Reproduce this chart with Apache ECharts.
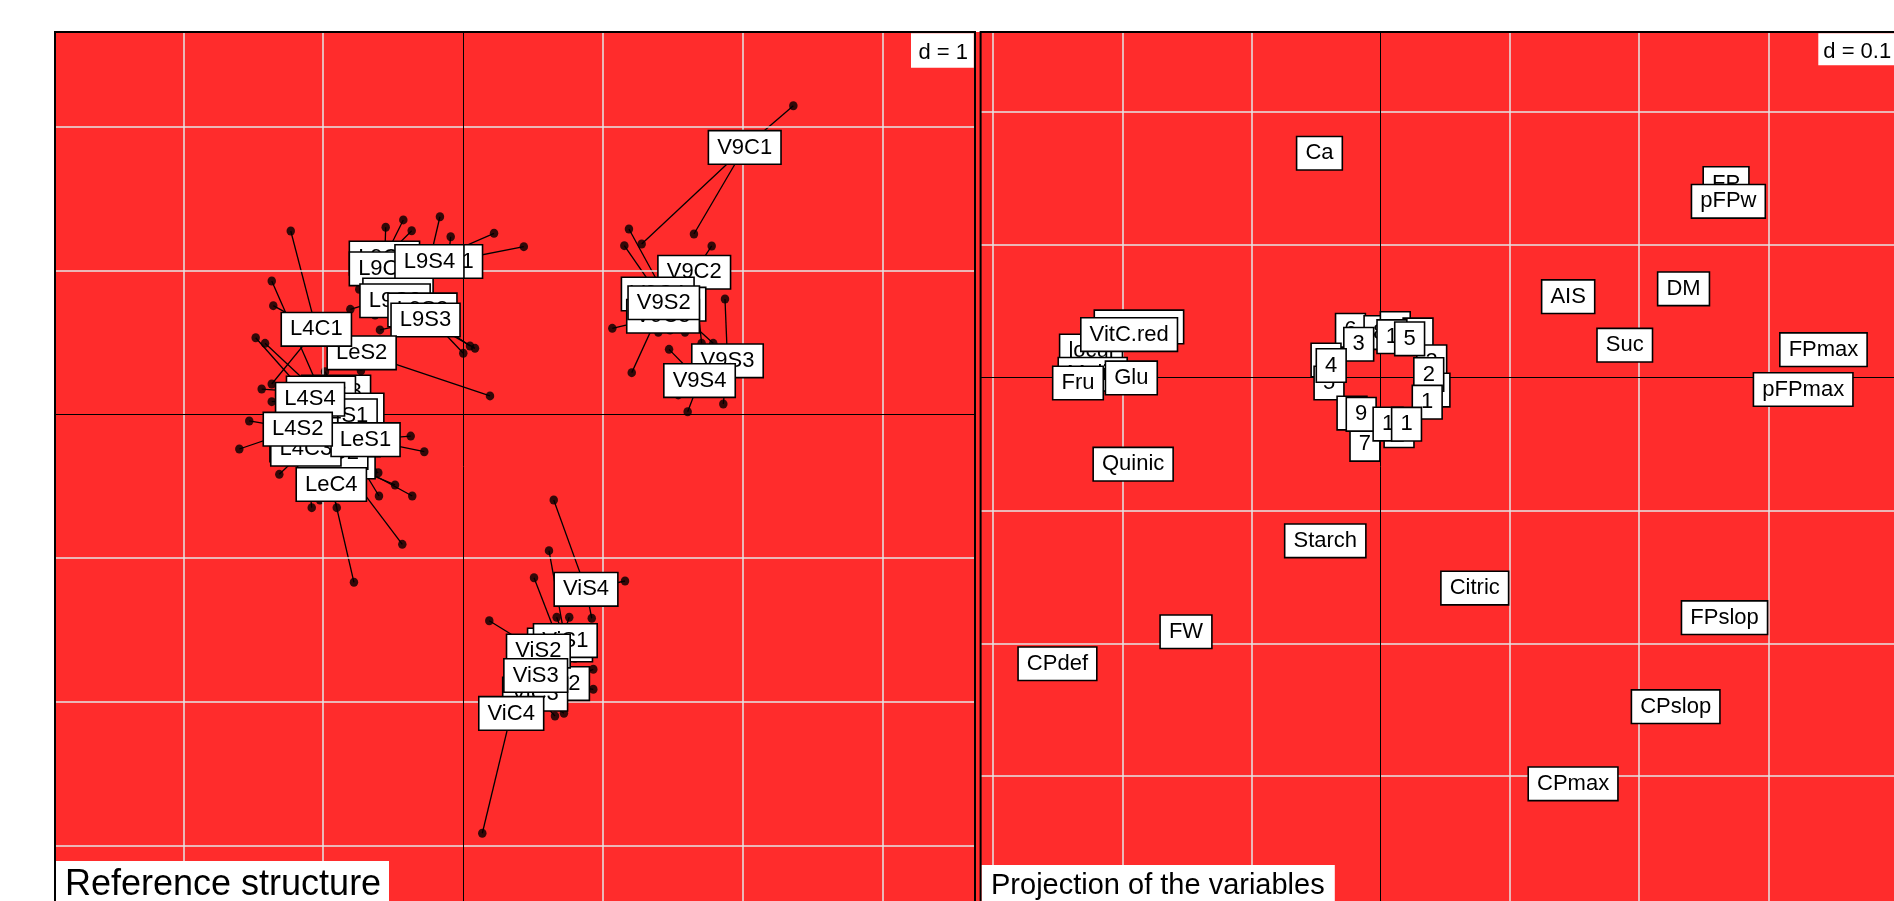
<!DOCTYPE html>
<html><head><meta charset="utf-8">
<script src="https://cdn.jsdelivr.net/npm/echarts@6/dist/echarts.min.js"></script>
<style>html,body{margin:0;padding:0;background:#fff}#c{width:1894px;height:901px}</style>
</head><body><div id="c"></div>
<script>
// ---- Reference structure (rows), in drawing order ----
const rowNames = [
  'L9C2','L9C1','L9C4','L9C3','L9S1','L9S4','L9S2','L9S3',
  'V9C1','V9C2','V9C4','V9S1','V9C3','V9S2','V9S3','V9S4',
  'ViS4','ViC1','ViS1','ViC2','ViS2','ViC3','ViS3','ViC4',
  'LeC3','LeC1','L4C4','L4C2','LeC2','L4C3','LeS3','L4S3',
  'LeS4','L4S1','L4S4','LeS1','L4S2','LeC4','LeS2','L4C1'
];
const rowCoords = [
  [-0.562,1.086],[-0.562,1.011],[-0.465,0.829],[-0.486,0.789],[-0.107,1.062],[-0.240,1.062],[-0.290,0.725],[-0.268,0.655],
  [2.015,1.855],[1.654,0.987],[1.393,0.836],[1.481,0.765],[1.431,0.681],[1.436,0.775],[1.892,0.371],[1.692,0.234],
  [0.880,-1.218],[0.694,-1.605],[0.732,-1.574],[0.672,-1.873],[0.539,-1.647],[0.516,-1.947],[0.520,-1.817],[0.345,-2.081],
  [-0.880,-0.332],[-0.844,-0.179],[-1.130,-0.214],[-1.023,-0.179],[-0.932,-0.266],[-1.124,-0.243],[-0.908,0.154],[-1.016,0.147],
  [-0.813,0.029],[-0.861,-0.011],[-1.094,0.104],[-0.697,-0.177],[-1.182,-0.104],[-0.942,-0.489],[-0.725,0.427],[-1.049,0.590]
];
const rowPartials = [
  [[-0.427,1.351],[-0.367,1.276],[-0.665,1.142]],
  [[-0.553,1.300],[-0.486,0.934],[-0.651,0.968]],
  [[-0.806,0.729],[0.050,0.474],[-0.379,0.864]],
  [[-0.742,0.869],[-0.415,0.725],[-0.629,0.690]],
  [[0.435,1.165],[-0.088,1.234],[-0.021,1.003]],
  [[-0.165,1.373],[0.222,1.258],[-0.236,1.003]],
  [[0.002,0.424],[-0.308,0.655],[-0.451,0.725]],
  [[-0.594,0.586],[0.086,0.458],[-0.165,0.620]],
  [[2.363,2.145],[1.652,1.253],[1.278,1.184]],
  [[1.779,1.170],[1.707,0.493],[1.695,0.864]],
  [[1.154,1.172],[1.588,0.570],[1.409,0.794]],
  [[1.187,1.288],[1.790,0.493],[1.516,0.726]],
  [[1.068,0.597],[1.397,0.570],[1.338,0.656]],
  [[1.207,0.289],[1.373,0.759],[1.481,0.585]],
  [[1.874,0.801],[1.862,0.071],[1.946,0.342]],
  [[1.474,0.451],[1.607,0.017],[1.540,0.134]],
  [[0.649,-0.597],[1.159,-1.160],[0.921,-1.419]],
  [[0.508,-1.137],[0.760,-1.412],[0.801,-1.697]],
  [[0.615,-0.949],[0.670,-1.412],[0.837,-1.636]],
  [[0.932,-1.774],[0.932,-1.913],[0.765,-1.918]],
  [[0.188,-1.436],[0.587,-1.570],[0.622,-1.744]],
  [[0.658,-2.099],[0.722,-2.080],[0.551,-1.993]],
  [[0.408,-1.840],[0.608,-1.911],[0.479,-1.710]],
  [[0.138,-2.914],[0.408,-2.064],[0.479,-2.133]],
  [[-0.486,-0.492],[-0.434,-0.905],[-0.951,-0.388]],
  [[-0.642,-0.400],[-0.601,-0.569],[-0.808,-0.249]],
  [[-1.082,-0.650],[-1.202,-0.318],[-1.059,-0.388]],
  [[-0.951,-0.284],[-1.166,-0.110],[-0.916,-0.214]],
  [[-0.606,-0.407],[-0.363,-0.569],[-0.880,-0.388]],
  [[-1.314,-0.418],[-1.237,-0.284],[-1.023,-0.332]],
  [[-0.987,0.296],[-0.844,0.064],[-0.951,0.099]],
  [[-1.368,0.926],[-1.440,0.175],[-1.166,0.099]],
  [[-0.665,-0.040],[-0.773,0.099],[-0.880,-0.006]],
  [[-1.416,0.493],[-0.737,-0.110],[-0.951,-0.040]],
  [[-1.483,0.532],[-1.368,0.087],[-1.237,0.029]],
  [[-0.374,-0.152],[-0.277,-0.261],[-0.737,-0.284]],
  [[-1.529,-0.047],[-1.600,-0.242],[-1.094,-0.179]],
  [[-0.903,-0.650],[-0.780,-1.169],[-1.023,-0.597]],
  [[-0.730,0.302],[0.193,0.127],[-0.808,0.412]],
  [[-1.232,1.274],[-1.357,0.755],[-1.368,0.210]]
];
// ---- Projection of the variables, in drawing order ----
const varNames = [
  'FP','pFPw','Ca','AIS','DM','Suc','FPmax','pFPmax',
  'VitC.tot','locul','VitC.red','Malic','Fru','Glu','Quinic',
  'Starch','Citric','FPslop','FW','CPdef','CPslop','CPmax',
  '6','8','7','9','6','5','3','8','2','7','4',
  '3','1','5','4','2','1','9','1','1'
];
const varCoords = [
  [0.2673,0.1462],[0.2691,0.1328],[-0.0474,0.1690],[0.1451,0.0610],[0.2344,0.0669],[0.1889,0.0245],[0.3427,0.0211],[0.3270,-0.0089],
  [-0.1871,0.0382],[-0.2242,0.0201],[-0.1947,0.0325],[-0.2229,0.0026],[-0.2343,-0.0040],[-0.1930,-0.0002],[-0.1916,-0.0651],
  [-0.0429,-0.1228],[0.0728,-0.1584],[0.2661,-0.1807],[-0.1507,-0.1913],[-0.2502,-0.2154],[0.2283,-0.2477],[0.1489,-0.3058],
  [-0.0234,0.0357],[-0.0013,0.0340],[0.0113,0.0370],[0.0289,0.0322],[-0.0423,0.0133],[-0.0400,-0.0040],[0.0395,0.0120],[0.0420,-0.0093],[-0.0222,-0.0266],[-0.0122,-0.0502],[0.0142,-0.0399],
  [-0.0170,0.0252],[0.0087,0.0309],[0.0224,0.0293],[-0.0383,0.0092],[0.0372,0.0024],[0.0360,-0.0184],[-0.0151,-0.0276],[0.0057,-0.0349],[0.0200,-0.0350]
];
// grid line positions (d = 1 left, d = 0.1 right)
const leftGridX = [-2,-1,1,2,3];
const leftGridY = [2,1,-1,-2,-3];
const rightGridX = [-0.3,-0.2,-0.1,0.1,0.2,0.3];
const rightGridY = [0.2,0.1,-0.1,-0.2,-0.3];
// visible extent of each panel (panels continue past the picture's bottom/right edge)
const leftRange = {xmin:-2.9185, xmax:3.6624, ymin:-3.3853, ymax:2.6579};
const rightRange = {xmin:-0.30967, xmax:0.39729, ymin:-0.39405, ymax:0.26032};

const RED = '#FF2C2C';
const FONT = '"Liberation Sans", Arial, sans-serif';

const chart = echarts.init(document.getElementById('c'), null, {renderer:'canvas'});

function gridLines(idx, xs, ys){
  return {type:'scatter', xAxisIndex:idx, yAxisIndex:idx, data:[], silent:true, z:1,
    markLine:{silent:true, animation:false, symbol:['none','none'], label:{show:false},
      emphasis:{disabled:true},
      lineStyle:{color:'#E4E4E4', width:1.5, type:'solid'},
      data: xs.map(v=>({xAxis:v})).concat(ys.map(v=>({yAxis:v})))}};
}
function zeroLines(idx){
  return {type:'scatter', xAxisIndex:idx, yAxisIndex:idx, data:[], silent:true, z:2,
    markLine:{silent:true, animation:false, symbol:['none','none'], label:{show:false},
      emphasis:{disabled:true},
      lineStyle:{color:'#000', width:1, type:'solid'},
      data:[{xAxis:0},{yAxis:0}]}};
}
const labelStyle = {
  show:true, position:'inside', formatter: p => p.name,
  fontFamily: FONT, fontSize:22, lineHeight:22, color:'#000', opacity:1,
  backgroundColor:'#ffffff', borderColor:'#000', borderWidth:1.6,
  padding:[5,8,5,8]
};
function labelSeries(idx, names, coords){
  return {type:'scatter', xAxisIndex:idx, yAxisIndex:idx, z:6, silent:true,
    symbol:'circle', symbolSize:1, itemStyle:{color:RED},
    label: labelStyle, emphasis:{disabled:true}, blur:{label:{opacity:1}},
    data: names.map((n,i)=>({name:n, value:coords[i]}))};
}

const segs = [];
const dots = [];
rowPartials.forEach((ps,i)=>{
  ps.forEach(p=>{
    segs.push({coords:[rowCoords[i], p]});
    dots.push(p);
  });
});

const border = {stroke:'#000', lineWidth:2};
const option = {
  animation:false,
  backgroundColor:'#fff',
  grid:[
    {left:55, top:32, width:920, height:869, show:true, backgroundColor:RED, borderWidth:0},
    {left:980.6, top:32, width:913.4, height:869, show:true, backgroundColor:RED, borderWidth:0}
  ],
  xAxis:[
    {gridIndex:0, type:'value', min:leftRange.xmin, max:leftRange.xmax, show:false},
    {gridIndex:1, type:'value', min:rightRange.xmin, max:rightRange.xmax, show:false}
  ],
  yAxis:[
    {gridIndex:0, type:'value', min:leftRange.ymin, max:leftRange.ymax, show:false},
    {gridIndex:1, type:'value', min:rightRange.ymin, max:rightRange.ymax, show:false}
  ],
  series:[
    gridLines(0, leftGridX, leftGridY),
    gridLines(1, rightGridX, rightGridY),
    zeroLines(0), zeroLines(1),
    {type:'lines', coordinateSystem:'cartesian2d', xAxisIndex:0, yAxisIndex:0, z:3, silent:true,
      lineStyle:{color:'#000', width:1.3, opacity:1, curveness:0}, data:segs},
    {type:'scatter', xAxisIndex:0, yAxisIndex:0, z:4, silent:true, symbol:'circle', symbolSize:[8.5,9],
      itemStyle:{color:'#000'}, data:dots},
    labelSeries(0, rowNames, rowCoords),
    labelSeries(1, varNames, varCoords)
  ],
  graphic:[
    {type:'rect', z:0, shape:{x:975, y:32, width:6, height:869}, style:{fill:RED}},
    {type:'polyline', z:90, shape:{points:[[55,901],[55,32],[975,32],[975,901]]}, style:border},
    {type:'polyline', z:90, shape:{points:[[980.6,901],[980.6,32],[1894,32]]}, style:border},
    {type:'rect', z:100, shape:{x:911, y:33.3, width:62.8, height:34.4}, style:{fill:'#fff'}},
    {type:'text', z:101, x:918.5, y:53, style:{text:'d = 1', font:'22px '+FONT, fill:'#000', verticalAlign:'middle', align:'left'}},
    {type:'rect', z:100, shape:{x:1818.3, y:33.3, width:80, height:32}, style:{fill:'#fff'}},
    {type:'text', z:101, x:1823.3, y:52.4, style:{text:'d = 0.1', font:'22px '+FONT, fill:'#000', verticalAlign:'middle', align:'left'}},
    {type:'rect', z:100, shape:{x:56, y:861, width:333, height:60}, style:{fill:'#fff'}},
    {type:'text', z:101, x:65, y:885.5, style:{text:'Reference structure', font:'36px '+FONT, fill:'#000', verticalAlign:'middle', align:'left'}},
    {type:'rect', z:100, shape:{x:981.8, y:865, width:353, height:60}, style:{fill:'#fff'}},
    {type:'text', z:101, x:991, y:886.4, style:{text:'Projection of the variables', font:'29px '+FONT, fill:'#000', verticalAlign:'middle', align:'left'}}
  ]
};
chart.setOption(option);
</script>
</body></html>
